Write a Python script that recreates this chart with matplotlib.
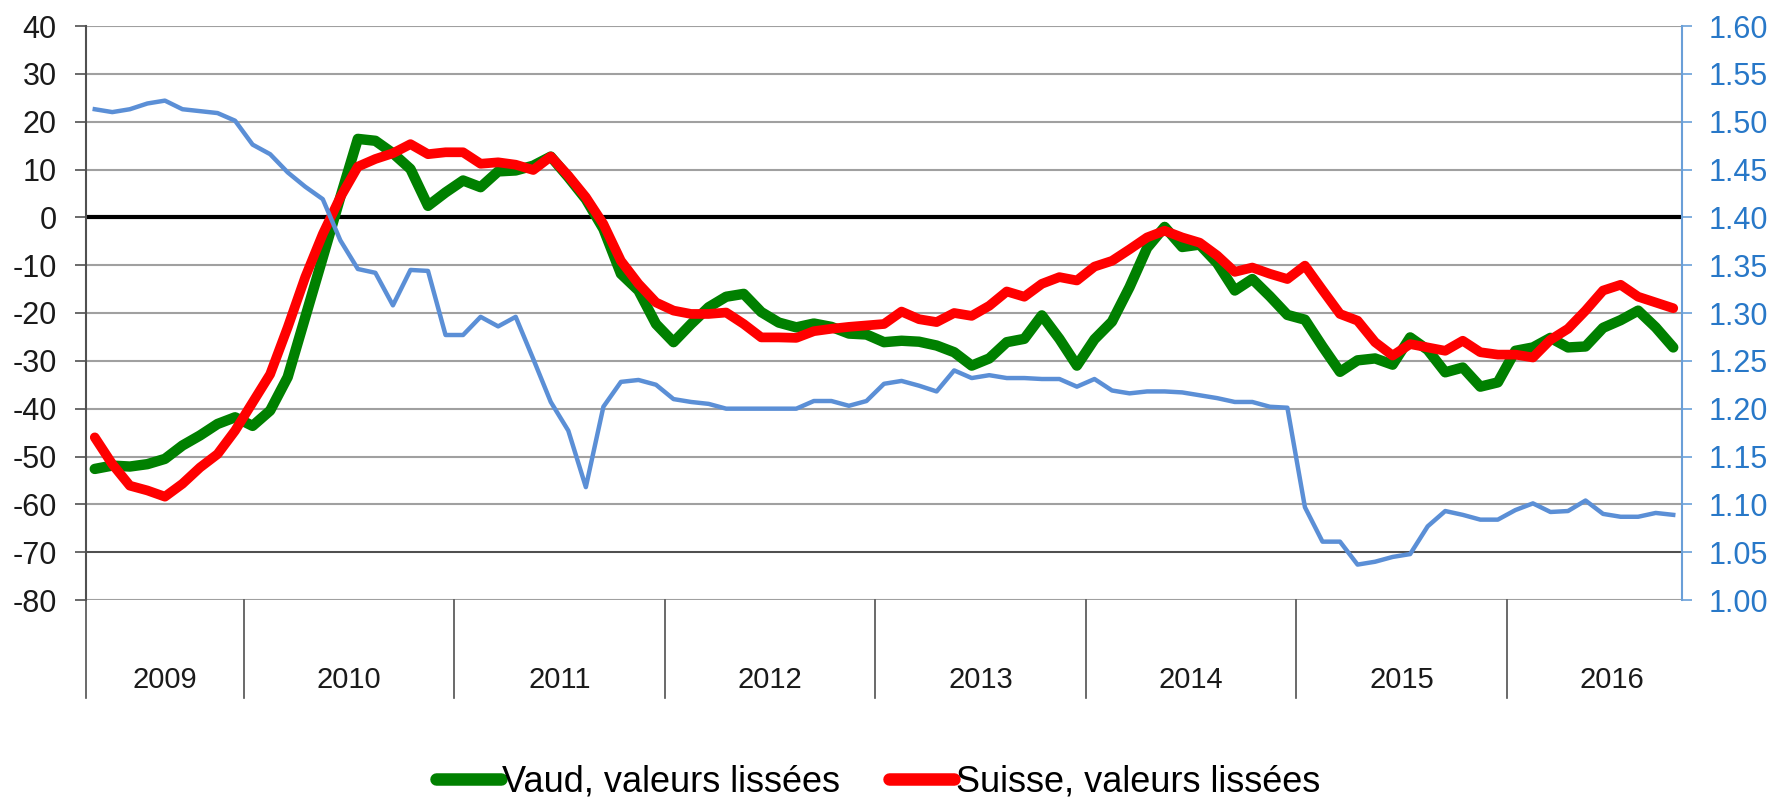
import matplotlib
matplotlib.use("Agg")
import matplotlib.pyplot as plt
from matplotlib.lines import Line2D
import numpy as np
import pandas as pd

plt.rcParams["font.family"] = ["Liberation Sans", "DejaVu Sans"]
plt.rcParams["axes.unicode_minus"] = False

# --- Données (mensuelles, avril 2009 - octobre 2016) ---
mois = pd.period_range("2009-04", "2016-10", freq="M")

vaud = [-52.6, -51.9, -52.1, -51.6, -50.5, -47.7, -45.6, -43.2, -41.8, -43.6,
        -40.4, -33.4, -20.9, -8.4, 4.2, 16.4, 16.0, 13.4, 10.1, 2.4,
        5.2, 7.7, 6.3, 9.6, 9.8, 10.8, 12.7, 8.4, 3.8, -2.4,
        -11.8, -15.3, -22.3, -26.1, -22.3, -18.8, -16.6, -16.0, -19.8, -22.0,
        -23.0, -22.2, -22.9, -24.3, -24.5, -26.1, -25.8, -26.0, -26.8, -28.2,
        -31.0, -29.5, -26.1, -25.4, -20.5, -25.4, -31.0, -25.5, -21.8, -14.6,
        -6.4, -2.0, -6.2, -5.7, -9.6, -15.3, -12.9, -16.5, -20.4, -21.4,
        -27.0, -32.3, -29.9, -29.5, -30.8, -25.1, -27.7, -32.4, -31.4, -35.4,
        -34.5, -27.9, -27.2, -25.2, -27.2, -27.0, -23.1, -21.5, -19.5, -23.0,
        -27.2]

suisse = [-46.0, -51.6, -56.1, -57.1, -58.4, -55.7, -52.3, -49.5, -44.6, -38.7,
          -32.8, -23.0, -12.5, -3.5, 4.2, 10.6, 12.2, 13.4, 15.3, 13.2,
          13.6, 13.6, 11.2, 11.5, 11.0, 9.9, 12.7, 8.7, 4.2, -1.4,
          -9.1, -13.9, -17.8, -19.5, -20.2, -20.2, -19.9, -22.3, -25.1, -25.1,
          -25.2, -23.8, -23.3, -22.9, -22.6, -22.3, -19.7, -21.3, -21.9, -20.0,
          -20.6, -18.5, -15.5, -16.6, -13.9, -12.5, -13.2, -10.3, -9.1, -6.7,
          -4.2, -2.8, -4.2, -5.3, -8.0, -11.4, -10.5, -11.8, -12.9, -10.1,
          -15.2, -20.2, -21.6, -26.1, -28.9, -26.5, -27.2, -27.9, -25.8, -28.2,
          -28.7, -28.7, -29.3, -25.6, -23.3, -19.5, -15.3, -14.1, -16.6, -17.8,
          -19.0]

eur_chf = [1.513, 1.510, 1.513, 1.519, 1.522, 1.513, 1.511, 1.509, 1.501, 1.476,
           1.466, 1.447, 1.432, 1.419, 1.376, 1.346, 1.342, 1.308, 1.345, 1.344,
           1.277, 1.277, 1.296, 1.286, 1.296, 1.252, 1.207, 1.177, 1.118, 1.202,
           1.228, 1.230, 1.225, 1.210, 1.207, 1.205, 1.200, 1.200, 1.200, 1.200,
           1.200, 1.208, 1.208, 1.203, 1.208, 1.226, 1.229, 1.224, 1.218, 1.240,
           1.232, 1.235, 1.232, 1.232, 1.231, 1.231, 1.223, 1.231, 1.219, 1.216,
           1.218, 1.218, 1.217, 1.214, 1.211, 1.207, 1.207, 1.202, 1.201, 1.097,
           1.061, 1.061, 1.037, 1.040, 1.045, 1.048, 1.077, 1.093, 1.089, 1.084,
           1.084, 1.094, 1.101, 1.092, 1.093, 1.104, 1.090, 1.087, 1.087, 1.091,
           1.089]

labels_series = ["Vaud, valeurs lissées", "Suisse, valeurs lissées"]

VERT = "#008000"
ROUGE = "#ff0000"
BLEU = "#5b8fd6"
BLEU_AXE = "#2878c8"
GRIS = "#a0a0a0"
FONCE = "#505050"

# --- Figure ---
W, H = 1772, 802
fig = plt.figure(figsize=(W / 100, H / 100), dpi=100)
x0, x1, y0, y1 = 86, 1682, 26, 600
ax = fig.add_axes([x0 / W, 1 - y1 / H, (x1 - x0) / W, (y1 - y0) / H])

x = np.arange(len(mois))
ax.set_xlim(-0.5, len(mois) - 0.5)
ax.set_ylim(-80, 40)
ax.set_yticks(range(-80, 41, 10))
ax.set_xticks([])
ax.yaxis.grid(True, color=GRIS, lw=1.5)
ax.set_axisbelow(True)
ax.axhline(0, color="black", lw=3, zorder=2)
ax.axhline(-70, color="#404040", lw=1.2, zorder=2)

ax.plot(x, vaud, color=VERT, lw=7.5, solid_joinstyle="round",
        solid_capstyle="round", zorder=3)
ax.plot(x, suisse, color=ROUGE, lw=7, solid_joinstyle="round",
        solid_capstyle="round", zorder=4)

for s in ("top", "bottom", "right"):
    ax.spines[s].set_visible(False)
ax.spines["left"].set_color(FONCE)
ax.spines["left"].set_linewidth(1.5)
ax.tick_params(axis="y", direction="out", length=8, width=1.2, color=FONCE,
               pad=13, labelsize=22, labelcolor="#1a1a1a")

# axe secondaire (taux de change)
ax2 = ax.twinx()
ax2.set_ylim(1.0, 1.6)
ax2.set_yticks(np.round(np.arange(1.0, 1.601, 0.05), 2))
ax2.set_yticklabels([f"{v:.2f}" for v in np.arange(1.0, 1.601, 0.05)])
ax2.plot(x, eur_chf, color=BLEU, lw=3.2, solid_joinstyle="round", zorder=5)
for s in ("top", "bottom", "left"):
    ax2.spines[s].set_visible(False)
ax2.spines["right"].set_color("#6a9fd8")
ax2.spines["right"].set_linewidth(1.5)
ax2.tick_params(axis="y", direction="out", length=7, width=1.2,
                color="#6a9fd8", pad=12, labelsize=22, labelcolor=BLEU_AXE)

# --- Axe des catégories : séparateurs et années ---
annees = mois.year
debuts = [i for i in range(1, len(mois)) if annees[i] != annees[i - 1]]
bas = -98 / (y1 - y0)
trans = ax.get_xaxis_transform()
for b in [0] + debuts:
    ax.plot([b - 0.5, b - 0.5], [0, bas], transform=trans, color=FONCE,
            lw=1.2, clip_on=False)
bornes = [-0.5] + [b - 0.5 for b in debuts] + [debuts[-1] - 0.5 + 12]
for k, an in enumerate(sorted(set(annees))):
    ax.text((bornes[k] + bornes[k + 1]) / 2, -80 / (y1 - y0), str(an),
            transform=trans, ha="center", va="center", fontsize=21,
            color="#1a1a1a")

# --- Légende ---
poignees = [Line2D([], [], color=VERT, lw=9, solid_capstyle="round"),
            Line2D([], [], color=ROUGE, lw=9, solid_capstyle="round")]
fig.legend(poignees, labels_series, loc="center",
           bbox_to_anchor=(878 / W, 1 - 782 / H), ncol=2, frameon=False,
           fontsize=26, handlelength=1.8, handletextpad=0.05,
           columnspacing=1.35)

fig.savefig("out.png", dpi=100)
